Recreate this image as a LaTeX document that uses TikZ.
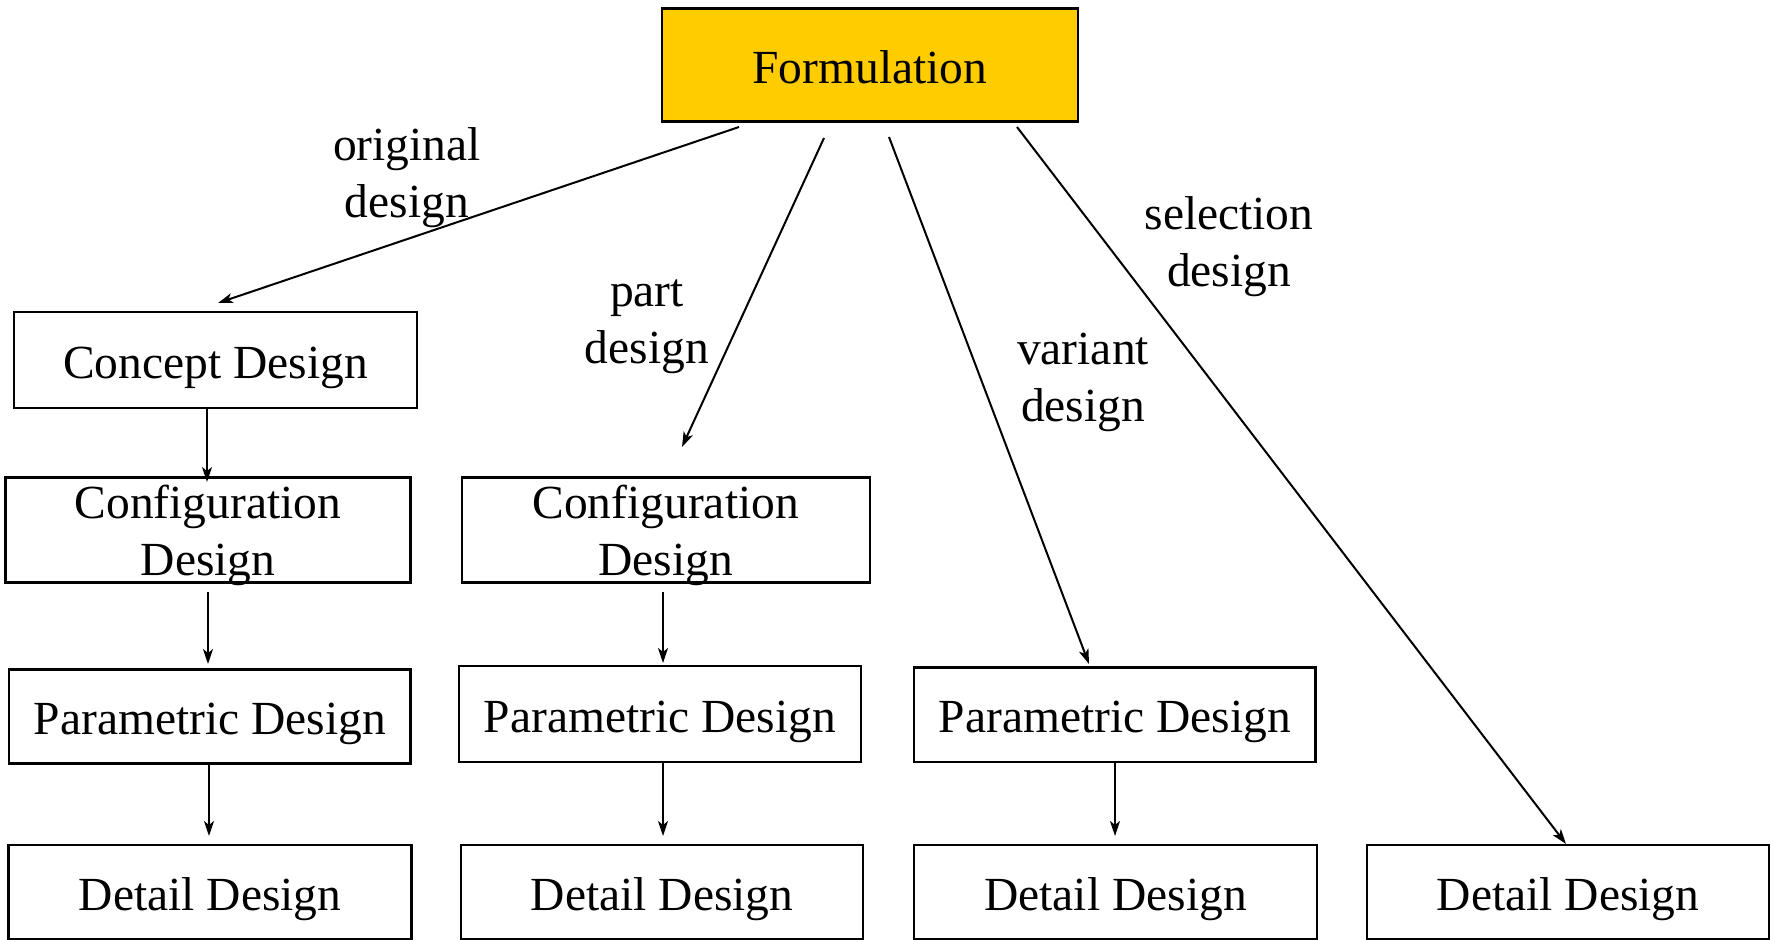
\documentclass[tikz,border=0pt]{standalone}
\usepackage{fontspec}
\setmainfont{Liberation Serif}
\usetikzlibrary{arrows.meta}
\definecolor{formyellow}{HTML}{FFCC00}
\begin{document}
\begin{tikzpicture}[x=1pt,y=-1pt,
  every node/.style={font=\fontsize{47.5}{57}\selectfont},
  box/.style={draw, line width=2.4pt, inner sep=0pt, text height=36pt, text depth=0pt},
  lbl/.style={align=center, inner sep=0pt},
  arr/.style={line width=2pt, -{Stealth[length=15pt,width=10pt,inset=4pt]}}
]
\useasboundingbox (0,0) rectangle (1773,940);

% boxes
\node[box, fill=formyellow, minimum width=416pt, minimum height=113pt] (F) at (870,65) {Formulation};
\node[box, minimum width=403pt, minimum height=96pt] (C) at (215.5,360) {Concept Design};
\node[box, minimum width=405pt, minimum height=105pt] (CfL) at (208,530) {};
\node[box, minimum width=408pt, minimum height=105pt] (CfM) at (665.7,530) {};
\node[lbl] (CfLt) at (208,536) {\strut Configuration\\\strut Design};
\node[lbl] (CfMt) at (665.7,536) {\strut Configuration\\\strut Design};
\node[box, minimum width=401.6pt, minimum height=94pt] (PL) at (209.8,716.3) {Parametric Design};
\node[box, minimum width=401.6pt, minimum height=96pt] (PM) at (660,714) {Parametric Design};
\node[box, minimum width=401.6pt, minimum height=94.4pt] (PR) at (1114.8,714.5) {Parametric Design};
\node[box, minimum width=403pt, minimum height=94pt] (DL) at (210,892) {Detail Design};
\node[box, minimum width=401.5pt, minimum height=94pt] (DM) at (662,892) {Detail Design};
\node[box, minimum width=403pt, minimum height=94pt] (DR) at (1115.5,892) {Detail Design};
\node[box, minimum width=402.5pt, minimum height=94pt] (DS) at (1568,892) {Detail Design};

% connector end points
\coordinate (o1) at (739,127);  \coordinate (o2) at (218,303);
\coordinate (p1) at (824,138);  \coordinate (p2) at (682,447);
\coordinate (v1) at (889,137);  \coordinate (v2) at (1089,664);
\coordinate (s1) at (1017,127); \coordinate (s2) at (1566,844);
\coordinate (a1) at (207,482);
\coordinate (b0) at (208,591.5); \coordinate (b1) at (208,664);
\coordinate (c0) at (663,591.5); \coordinate (c1) at (663,663);
\coordinate (d1) at (209,836);
\coordinate (e1) at (663,836);
\coordinate (f1) at (1115,836);

% connectors
\draw[arr] (o1) -- (o2);
\draw[arr] (p1) -- (p2);
\draw[arr] (v1) -- (v2);
\draw[arr] (s1) -- (s2);
\draw[arr] (C.south -| a1) -- (a1);
\draw[arr] (b0) -- (b1);
\draw[arr] (c0) -- (c1);
\draw[arr] (PL.south -| d1) -- (d1);
\draw[arr] (PM.south -| e1) -- (e1);
\draw[arr] (PR.south -| f1) -- (f1);

% connector labels
\node[lbl] (lo) at (407,178) {\strut original\\\strut design};
\node[lbl] (lp) at (647,324) {\strut part\\\strut design};
\node[lbl] (lv) at (1083,382) {\strut variant\\\strut design};
\node[lbl] (ls) at (1229,247) {\strut selection\\\strut design};
\end{tikzpicture}
\end{document}
